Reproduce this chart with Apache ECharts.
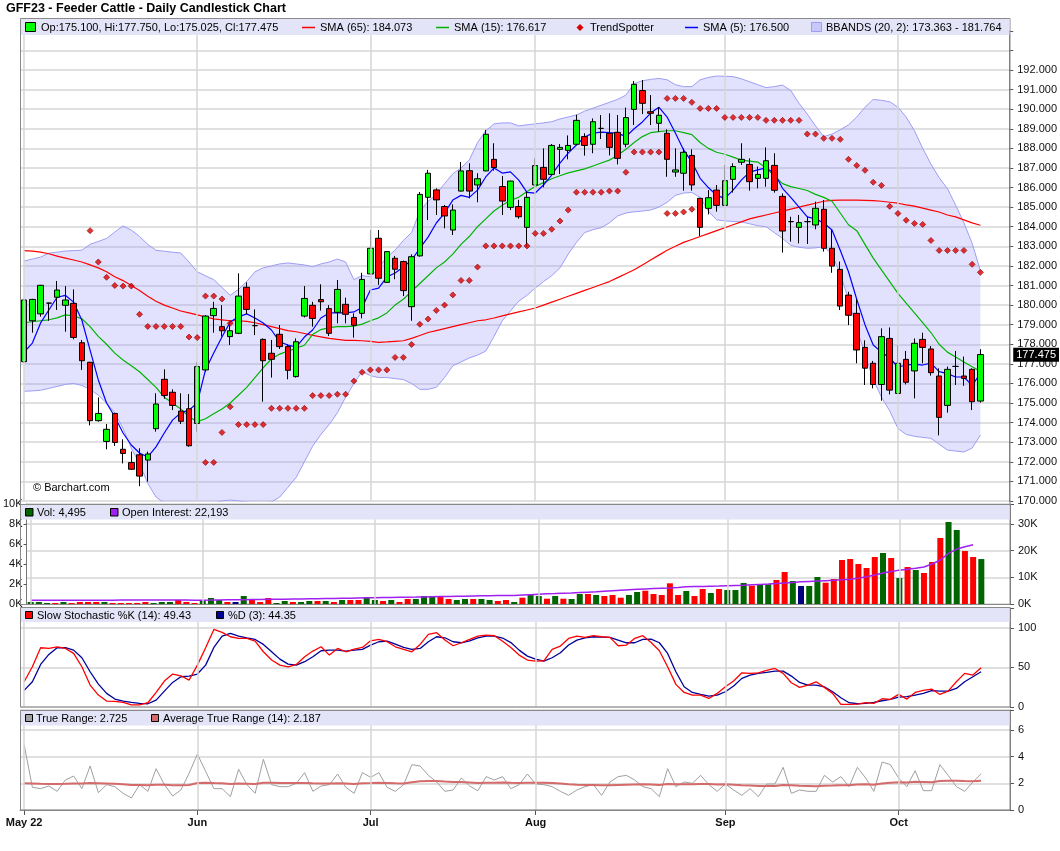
<!DOCTYPE html>
<html><head><meta charset="utf-8">
<script src="https://cdn.jsdelivr.net/npm/echarts@6/dist/echarts.min.js"></script>
<style>html,body{margin:0;padding:0;background:#fff}#c{width:1060px;height:851px}</style>
</head><body><div id="c"></div>
<script>
const dates = [
'2022-05-02','2022-05-03','2022-05-04','2022-05-05','2022-05-06','2022-05-09','2022-05-10','2022-05-11','2022-05-12','2022-05-13',
'2022-05-16','2022-05-17','2022-05-18','2022-05-19','2022-05-20','2022-05-23','2022-05-24','2022-05-25','2022-05-26','2022-05-27',
'2022-05-31','2022-06-01','2022-06-02','2022-06-03','2022-06-06','2022-06-07','2022-06-08','2022-06-09','2022-06-10','2022-06-13',
'2022-06-14','2022-06-15','2022-06-16','2022-06-17','2022-06-21','2022-06-22','2022-06-23','2022-06-24','2022-06-27','2022-06-28',
'2022-06-29','2022-06-30','2022-07-01','2022-07-05','2022-07-06','2022-07-07','2022-07-08','2022-07-11','2022-07-12','2022-07-13',
'2022-07-14','2022-07-15','2022-07-18','2022-07-19','2022-07-20','2022-07-21','2022-07-22','2022-07-25','2022-07-26','2022-07-27',
'2022-07-28','2022-07-29','2022-08-01','2022-08-02','2022-08-03','2022-08-04','2022-08-05','2022-08-08','2022-08-09','2022-08-10',
'2022-08-11','2022-08-12','2022-08-15','2022-08-16','2022-08-17','2022-08-18','2022-08-19','2022-08-22','2022-08-23','2022-08-24',
'2022-08-25','2022-08-26','2022-08-29','2022-08-30','2022-08-31','2022-09-01','2022-09-02','2022-09-06','2022-09-07','2022-09-08',
'2022-09-09','2022-09-12','2022-09-13','2022-09-14','2022-09-15','2022-09-16','2022-09-19','2022-09-20','2022-09-21','2022-09-22',
'2022-09-23','2022-09-26','2022-09-27','2022-09-28','2022-09-29','2022-09-30','2022-10-03','2022-10-04','2022-10-05','2022-10-06',
'2022-10-07','2022-10-10','2022-10-11','2022-10-12','2022-10-13','2022-10-14','2022-10-17'];

const opens = [
177.11,179.20,179.55,180.10,180.40,179.99,180.09,178.08,177.08,174.10,
173.04,174.47,172.64,171.96,172.36,172.09,173.69,176.21,175.55,174.59,
174.71,173.96,176.69,179.46,178.90,178.39,178.56,180.91,178.95,178.25,
177.54,178.51,177.88,176.35,179.44,179.99,180.28,179.82,179.63,180.04,
179.37,179.58,181.59,183.41,181.16,182.39,182.22,179.92,182.51,185.50,
185.88,185.03,183.83,185.82,186.86,186.13,186.85,187.44,186.05,184.99,
185.03,183.97,186.13,187.03,186.67,187.95,187.90,188.21,188.60,188.21,
189.02,188.77,188.82,188.21,189.99,190.95,189.87,189.28,188.77,186.79,
186.73,187.64,185.45,184.94,185.87,185.09,186.42,187.29,187.18,186.47,
186.47,187.13,185.55,184.26,183.97,184.26,184.09,184.89,182.90,181.82,
180.51,179.58,177.84,177.03,175.95,178.30,175.49,177.23,176.64,178.25,
177.76,176.38,174.88,176.87,176.38,176.72,175.100];
const highs = [
180.32,180.32,181.03,180.12,181.23,180.97,180.80,178.22,177.11,175.29,
173.93,174.50,173.15,172.52,172.69,172.52,175.50,176.72,175.70,175.50,
175.46,177.08,179.49,180.17,180.00,179.15,181.62,181.16,179.78,178.30,
178.22,178.98,177.99,178.30,180.97,180.17,181.06,180.00,181.28,180.38,
179.58,181.65,183.83,183.83,182.75,182.51,182.27,182.59,185.77,186.90,
185.96,185.11,185.14,187.30,187.24,186.73,188.94,188.26,186.59,186.35,
185.37,185.79,187.49,188.00,188.22,188.22,188.66,189.72,188.77,189.53,
189.70,189.79,189.70,190.08,191.44,191.49,190.72,190.09,188.97,188.00,
188.00,187.95,185.47,185.87,186.13,187.15,187.24,188.26,187.49,187.07,
188.05,187.75,185.70,184.51,184.60,184.51,185.28,185.36,183.83,182.22,
180.68,180.30,178.20,177.15,178.81,178.86,177.96,177.66,178.30,178.59,
177.91,176.77,176.86,177.66,177.37,176.77,177.750];
const lows = [
177.05,178.59,179.41,179.20,179.75,178.64,178.25,176.69,173.86,174.05,
172.64,172.81,171.92,171.58,170.76,170.99,173.54,175.22,174.64,173.93,
172.77,173.54,176.60,178.59,178.39,177.96,178.52,179.54,178.47,175.07,
176.30,177.76,176.21,176.30,179.37,178.90,179.72,178.42,179.07,179.07,
178.34,179.32,181.55,181.03,181.14,181.32,180.46,179.20,182.48,184.34,
184.60,183.92,183.58,185.80,185.45,185.25,186.83,186.86,184.60,184.85,
184.41,182.98,186.11,186.01,186.64,186.69,187.44,188.19,187.63,187.75,
188.48,187.64,187.18,188.05,189.19,189.75,189.19,188.85,186.55,186.55,
185.84,185.84,183.53,184.63,184.77,185.06,185.74,187.15,185.84,185.96,
186.04,185.74,182.68,183.24,183.15,183.12,183.87,182.73,181.65,179.75,
178.98,177.03,175.92,175.75,175.12,175.44,175.47,175.95,175.24,177.03,
176.40,173.35,174.51,175.92,175.88,174.64,175.025];
const closes = [
180.26,180.29,181.01,180.10,180.77,180.26,178.35,177.16,174.10,174.47,
173.66,172.99,172.43,171.62,171.27,172.40,174.95,175.39,174.88,174.07,
172.82,176.86,179.44,179.83,178.69,178.69,180.46,179.78,178.95,177.16,
177.23,177.88,176.67,178.13,180.34,179.32,180.17,178.56,180.80,179.53,
178.97,181.31,182.90,181.37,182.73,181.83,180.74,182.47,185.65,186.73,
185.37,184.55,184.85,186.85,185.82,186.45,188.72,187.02,185.31,186.33,
184.51,185.50,187.12,186.42,188.15,188.05,188.15,189.43,188.15,189.36,
189.02,188.05,187.49,189.57,191.27,190.30,189.79,189.69,187.44,186.90,
187.80,186.13,183.97,185.48,185.09,186.35,187.07,187.44,186.30,186.67,
187.37,185.86,183.78,184.26,184.21,184.26,184.94,182.90,181.99,179.95,
179.48,177.71,176.78,175.95,178.39,175.66,177.03,176.06,178.05,177.84,
176.55,174.27,176.72,176.87,176.26,175.07,177.475];

const sma65 = [
182.78,182.75,182.7,182.62,182.5,182.4,182.3,182.2,182.05,181.9,
181.7,181.45,181.25,181.0,180.75,180.45,180.2,180.0,179.85,179.7,
179.6,179.5,179.4,179.3,179.25,179.2,179.2,179.17,179.1,179.0,
178.9,178.8,178.7,178.64,178.55,178.45,178.38,178.3,178.25,178.2,
178.2,178.18,178.15,178.1,178.12,178.15,178.18,178.3,178.45,178.6,
178.7,178.8,178.9,179.0,179.1,179.2,179.25,179.34,179.45,179.55,
179.65,179.75,179.85,180.0,180.15,180.3,180.45,180.6,180.75,180.9,
181.05,181.2,181.4,181.6,181.8,182.05,182.3,182.55,182.8,183.0,
183.2,183.35,183.5,183.65,183.8,183.95,184.1,184.25,184.4,184.5,
184.6,184.7,184.8,184.9,185.0,185.1,185.2,185.3,185.35,185.36,
185.36,185.36,185.35,185.33,185.3,185.25,185.2,185.12,185.05,184.95,
184.85,184.75,184.6,184.5,184.35,184.2,184.073];
const sma15 = [
179.1,179.15,179.2,179.25,179.35,179.5,179.45,179.3,178.9,178.4,
178.0,177.55,177.2,176.9,176.6,176.2,175.8,175.3,175.0,174.7,
174.3,174.05,174.2,174.45,174.7,175.0,175.4,175.8,176.3,176.8,
177.25,177.5,177.65,177.8,177.95,178.5,178.75,178.85,178.9,178.9,
178.93,179.03,179.2,179.35,179.6,180.0,180.3,180.7,181.1,181.5,
181.9,182.2,182.6,183.1,183.5,184.0,184.4,184.8,185.1,185.35,
185.5,185.8,186.05,186.25,186.45,186.6,186.75,186.85,186.95,187.1,
187.25,187.4,187.65,187.95,188.3,188.6,188.8,188.85,188.9,188.9,
188.8,188.7,188.3,188.0,187.8,187.7,187.55,187.4,187.35,187.3,
187.0,186.6,186.2,186.05,185.95,185.85,185.65,185.5,185.3,184.7,
184.1,183.8,183.1,182.4,181.8,181.2,180.6,180.1,179.6,179.1,
178.6,178.0,177.6,177.35,177.1,176.85,176.617];
const sma5 = [
177.6,178.06,179.09,179.75,180.4,180.5,180.15,179.24,177.7,176.18,
175.0,174.3,173.47,172.86,172.45,172.25,172.76,173.47,174.13,174.5,
174.64,175.0,176.69,177.55,178.37,179.14,179.4,179.55,179.34,179.09,
178.73,178.12,177.96,177.86,178.37,178.73,179.34,179.6,179.6,179.6,
179.65,179.88,180.77,180.87,181.43,181.64,181.94,182.3,182.9,183.47,
184.19,184.7,185.36,185.6,185.5,185.87,186.54,187.0,186.74,186.8,
186.38,185.75,185.72,186.13,186.64,187.25,187.76,188.17,188.58,188.78,
188.83,188.8,188.78,188.6,189.0,189.35,189.8,190.1,189.6,188.78,
187.92,187.3,186.47,186.0,185.6,185.45,185.87,186.38,186.79,186.9,
187.0,186.74,185.96,185.5,185.0,184.5,184.4,184.19,183.83,182.8,
181.7,180.3,179.0,177.96,177.6,177.3,176.84,176.94,176.99,176.94,
177.04,176.6,176.5,176.33,176.33,175.9,176.500];
const bbUpper = [
182.25,182.35,182.45,182.65,182.7,182.76,182.78,182.8,183.1,183.25,
183.4,183.73,184.04,183.83,183.5,183.1,182.8,182.75,182.7,182.66,
182.2,181.7,181.5,181.3,180.9,180.5,180.8,181.2,181.7,181.9,
182.0,182.1,182.15,182.1,182.05,181.96,182.1,182.2,182.35,182.2,
181.3,181.5,181.45,181.9,182.45,182.8,183.3,183.7,184.8,185.3,
185.65,186.2,186.7,187.0,187.4,188.3,188.9,189.25,189.3,189.3,
189.15,189.2,189.25,189.3,189.36,189.5,189.6,189.7,189.9,190.05,
190.2,190.35,190.5,190.72,191.3,191.45,191.52,191.57,191.5,191.25,
191.15,191.15,191.5,191.62,191.69,191.68,191.66,191.55,191.4,191.25,
191.1,191.15,191.23,190.95,190.3,189.75,189.15,188.6,188.73,188.95,
189.2,189.6,190.1,190.5,190.45,190.38,190.1,189.6,188.9,188.0,
187.2,186.5,185.95,185.1,184.2,183.15,181.764];
const bbLower = [
175.6,175.62,175.65,175.75,175.85,175.95,176.0,175.9,175.7,175.4,
175.0,174.5,173.7,172.7,171.9,170.9,170.2,169.9,169.8,169.7,
169.7,169.7,169.8,169.9,170.0,170.05,170.0,169.95,169.9,169.9,
169.95,170.2,170.7,171.2,172.0,172.8,173.4,173.9,174.5,175.3,
176.0,176.6,176.4,176.3,176.3,176.25,176.2,176.0,175.7,175.7,
175.8,176.3,176.9,177.1,177.3,177.45,177.65,178.4,179.2,179.7,
180.2,180.5,180.87,181.2,181.5,181.9,182.6,183.2,183.7,183.85,
183.95,184.2,184.55,184.7,184.76,184.8,184.85,185.0,185.25,185.6,
185.72,185.75,185.5,184.8,184.35,184.3,184.27,184.25,184.15,184.05,
184.0,183.7,183.4,183.05,182.95,182.9,182.92,182.98,182.6,181.6,
180.3,178.8,177.5,176.2,175.3,174.6,173.7,173.4,173.3,173.25,
173.2,172.9,172.6,172.55,172.5,172.7,173.363];
const trendHigh = [
null,null,null,null,null,null,null,null,183.8,182.2,
181.42,181.0,180.97,180.97,179.53,178.91,178.91,178.91,178.91,178.91,
178.37,178.34,180.46,180.46,180.31,179.07,null,null,null,null,
null,null,null,null,null,null,null,null,null,null,
null,null,null,null,null,null,null,null,null,null,
null,null,null,null,null,null,null,null,null,null,
null,null,null,null,null,null,null,null,null,null,
null,null,null,null,null,null,null,null,190.55,190.55,
190.55,190.35,190.04,190.04,190.04,189.58,189.58,189.58,189.58,189.58,
189.43,189.43,189.43,189.43,189.43,188.73,188.73,188.51,188.51,188.46,
187.44,187.13,186.88,186.27,186.11,185.04,184.68,184.33,184.17,184.12,
183.3,182.79,182.79,182.79,182.79,182.08,181.67];
const trendLow = [
null,null,null,null,null,null,null,null,null,null,
null,null,null,null,null,null,null,null,null,null,
null,null,171.97,171.97,173.5,174.81,173.9,173.9,173.9,173.9,
174.73,174.73,174.73,174.73,174.73,175.38,175.38,175.38,175.45,175.45,
176.12,176.57,176.69,176.69,176.69,177.33,177.33,177.99,179.02,179.29,
179.73,180.0,180.52,181.26,181.26,181.94,183.02,183.02,183.02,183.02,
183.02,183.02,183.66,183.66,183.87,184.29,184.85,185.76,185.76,185.76,
185.76,185.82,185.82,186.78,187.81,187.81,187.81,187.81,184.68,184.68,
184.75,184.89,null,null,null,null,null,null,null,null,
null,null,null,null,null,null,null,null,null,null,
null,null,null,null,null,null,null,null,null,null,
null,null,null,null,null,null,null];

const volume = [
200,200,100,100,200,100,200,200,200,200,
100,100,100,100,200,100,200,200,400,200,
100,300,600,400,200,200,800,500,200,600,
100,300,200,200,300,300,300,200,400,400,
400,700,400,300,400,200,500,500,800,800,
800,500,400,500,500,500,400,300,400,200,
630,900,800,530,800,530,500,1000,1000,900,
800,900,630,900,1200,1330,1000,900,2070,900,
1300,800,1500,1100,1500,1400,1400,2100,1830,1970,
1970,2400,3200,2300,1800,1800,2700,2130,2500,4400,
4500,4000,3600,4700,5100,4600,2600,3700,3400,3100,
4200,6600,8200,7400,5300,4700,4495];
const volDir = [
'u','u','u','d','u','d','d','d','d','u',
'd','d','d','d','d','u','u','u','d','d',
'd','u','u','u','d','n','u','d','d','d',
'u','u','d','u','u','d','u','d','u','d',
'd','u','u','d','u','d','d','u','u','u',
'd','d','u','u','d','u','u','d','d','u',
'd','u','u','d','u','d','u','u','d','u',
'd','d','d','u','u','d','d','d','d','d',
'u','d','d','u','d','u','u','u','d','u',
'u','d','d','u','n','u','u','d','d','d',
'd','d','d','d','u','d','u','d','u','d',
'd','d','u','u','d','d','u'];
const openInterest = [
1400,1400,1410,1420,1420,1430,1430,1440,1440,1450,
1450,1460,1460,1470,1470,1480,1480,1480,1470,1460,
1450,1440,1460,1500,1550,1580,1620,1660,1700,1740,
1780,1820,1860,1900,1950,2000,2050,2100,2150,2200,
2250,2300,2350,2400,2450,2500,2550,2600,2660,2720,
2780,2840,2900,2950,3000,3050,3100,3150,3180,3200,
3350,3500,3650,3800,3900,4050,4150,4300,4450,4600,
4800,5000,5200,5350,5500,5650,5800,5900,6000,6200,
6450,6550,6600,6700,6750,6850,6950,7050,7200,7350,
7500,7700,7900,8100,8300,8450,8600,8750,8900,9050,
9300,9700,10200,10900,11600,12200,12700,13000,13400,13900,
15000,16500,19000,20600,21500,22193,null];

const stochK = [
31.6,50.6,74.7,73.8,75.9,73.8,67.5,50.6,27.4,14.8,
7.2,6.8,5.5,2.5,2.5,5.1,18.1,32.5,41.4,39.2,
33.8,52.7,74.7,97.9,94.1,88.6,86.5,86.5,83.1,69.6,
59.1,52.7,50.6,53.6,63.3,70.5,75.9,65.4,73.8,69.6,
73.0,75.1,83.5,85.2,82.3,75.9,72.6,69.6,78.9,91.6,
93.7,84.4,77.2,81.0,85.2,89.5,90.7,89.9,83.0,75.0,
65.4,59.1,57.8,58.2,72.6,76.8,86.5,89.5,87.8,89.9,
88.6,87.8,77.2,78.1,86.5,89.9,81.4,70.9,50.6,28.3,
18.1,14.8,14.8,10.5,16.9,25.3,32.5,43.0,42.2,43.0,
46.0,48.5,42.2,30.4,24.5,27.4,31.6,24.5,16.9,3.0,
3.0,3.4,5.1,4.2,10.1,9.3,15.6,9.7,18.1,20.7,
22.4,15.6,19.8,31.6,42.2,40.1,49.43];
const stochD = [
20.7,31.6,53.6,66.2,74.7,74.7,71.7,62.0,44.3,28.7,
16.9,9.7,7.2,5.5,4.2,3.8,8.4,19.8,30.8,38.0,
38.8,41.4,52.7,75.1,89.5,92.8,89.5,87.3,85.2,78.9,
69.6,60.3,54.0,52.7,57.0,63.3,70.9,71.7,71.7,70.5,
71.7,72.6,78.1,82.3,83.1,79.3,75.1,72.6,73.8,82.3,
88.6,87.3,82.3,81.0,83.5,87.3,89.5,89.5,87.0,81.2,
71.7,64.1,60.3,57.8,62.0,68.4,78.1,84.4,87.3,88.6,
88.2,87.8,84.4,81.0,81.0,85.2,85.7,81.0,67.5,44.3,
25.3,18.1,15.6,13.5,14.8,19.0,26.2,35.9,40.1,42.2,
43.5,45.1,45.1,38.8,30.8,27.4,27.4,25.3,19.0,11.4,
5.1,3.8,4.2,5.5,7.6,9.3,12.2,12.7,14.8,16.9,
20.3,19.8,19.8,23.2,31.6,38.0,44.35];
const trueRange = [
4.9,1.7,1.6,1.8,1.4,2.25,2.55,1.6,3.3,1.3,
1.9,1.75,1.25,0.9,1.9,1.4,3.1,1.9,1.05,1.5,
2.75,4.2,2.9,1.6,1.6,1.0,3.05,1.9,1.25,3.8,
1.9,1.75,1.75,2.0,2.8,1.4,1.8,1.9,2.7,1.7,
1.25,2.8,2.45,2.8,1.7,1.4,1.9,3.4,3.3,2.6,
2.1,1.4,1.5,2.4,1.8,1.45,2.5,2.25,2.5,1.6,
1.9,2.7,1.95,1.9,1.75,1.4,1.1,1.5,1.75,1.9,
1.1,2.1,2.5,2.6,2.25,1.75,1.6,1.0,3.1,1.75,
2.1,2.0,2.6,1.9,1.4,1.95,1.5,1.1,1.6,1.0,
1.95,1.95,3.2,1.25,1.5,1.4,1.4,2.6,2.1,2.5,
1.75,3.2,2.4,1.4,3.6,3.4,2.4,1.75,2.95,1.45,
1.45,3.4,2.6,1.75,1.4,2.1,2.725];
const atr14 = [
2.0,1.98,1.96,1.95,1.95,1.96,1.98,1.99,2.02,2.0,
1.98,1.96,1.93,1.88,1.87,1.86,1.9,1.9,1.86,1.85,
1.88,2.02,2.05,2.02,2.0,1.95,1.98,1.97,1.95,2.05,
2.05,2.03,2.02,2.02,2.03,2.0,1.99,1.98,2.0,1.98,
1.95,2.0,2.02,2.05,2.03,2.0,1.98,2.08,2.15,2.18,
2.17,2.13,2.1,2.1,2.07,2.03,2.04,2.05,2.07,2.04,
2.03,2.05,2.05,2.04,2.02,1.98,1.93,1.9,1.88,1.88,
1.85,1.85,1.88,1.9,1.92,1.93,1.92,1.88,1.95,1.93,
1.93,1.93,1.95,1.95,1.92,1.93,1.9,1.85,1.84,1.8,
1.8,1.8,1.88,1.85,1.82,1.8,1.78,1.82,1.83,1.85,
1.85,1.92,1.93,1.9,1.98,2.05,2.08,2.07,2.12,2.1,
2.08,2.17,2.2,2.2,2.17,2.15,2.187];

const monthNames = ['Jan','Feb','Mar','Apr','May','Jun','Jul','Aug','Sep','Oct','Nov','Dec'];

// ---------- build ----------
const FF = '"Liberation Sans", Arial, Helvetica, sans-serif';
const N = dates.length;
const last = N - 1;
const ohlc = dates.map((d, i) => [opens[i], closes[i], lows[i], highs[i]]);
const bbWidth = bbUpper.map((u, i) => +(u - bbLower[i]).toFixed(4));
const trendPts = [];
trendHigh.forEach((v, i) => { if (v != null) trendPts.push([i, v]); });
trendLow.forEach((v, i) => { if (v != null) trendPts.push([i, v]); });
const dirColor = { u: '#006400', d: '#ff0000', n: '#000080' };
const volData = volume.map((v, i) => ({ value: v, itemStyle: { color: dirColor[volDir[i]] } }));
const monthStarts = dates.map((d, i) => (i === 0 || d.slice(5, 7) !== dates[i - 1].slice(5, 7)) ? i : -1).filter(i => i >= 0);
const msSet = new Set(monthStarts);
const isMS = (idx) => msSet.has(idx);
const monthLabel = (val, idx) => {
  if (!val) return '';
  const m = monthNames[+val.slice(5, 7) - 1];
  return idx === 0 ? m + ' ' + val.slice(2, 4) : m;
};
const vLines = monthStarts.map(i => ({ xAxis: dates[i] }));
const vLineStyle = { silent: true, symbol: 'none', label: { show: false }, lineStyle: { color: '#d6d6d6', width: 1.5, type: 'solid' }, data: vLines, animation: false };

const GL = 20, GR = 50;
const grids = [
  { left: GL, right: GR, top: 30.82, height: 470.18 },
  { left: GL, right: GR, top: 504, height: 100 },
  { left: GL, right: GR, top: 608, height: 98.75 },
  { left: GL, right: GR, top: 710, height: 100 }
];
function xAx(gi, show) {
  return {
    type: 'category', gridIndex: gi, data: dates, max: 119, boundaryGap: true,
    axisLine: { show: show, lineStyle: { color: '#888' } },
    axisTick: { show: show, alignWithLabel: true, interval: isMS, length: 5, lineStyle: { color: '#555' } },
    axisLabel: { show: show, interval: isMS, formatter: monthLabel, fontFamily: FF, fontSize: 11, fontWeight: 'bold', color: '#111', margin: 7 },
    splitLine: { show: false }
  };
}
const gridLine = { show: true, lineStyle: { color: '#d6d6d6', width: 1.5 } };
const axLbl = { fontFamily: FF, fontSize: 11, color: '#111', margin: 8 };
const yAxes = [
  { type: 'value', gridIndex: 0, position: 'right', min: 170, max: 194, interval: 1,
    axisLine: { show: true, lineStyle: { color: '#777' } }, axisTick: { show: true, length: 4, lineStyle: { color: '#555' } },
    axisLabel: Object.assign({}, axLbl, { formatter: v => v <= 192.0001 ? v.toFixed(3) : '' }), splitLine: gridLine },
  { type: 'value', gridIndex: 1, position: 'left', min: 0, max: 10000, interval: 2000,
    axisLine: { show: true, lineStyle: { color: '#777' } }, axisTick: { show: true, length: 3, lineStyle: { color: '#555' } },
    axisLabel: Object.assign({}, axLbl, { margin: 4, formatter: v => (v / 1000) + 'K' }), splitLine: { show: false } },
  { type: 'value', gridIndex: 1, position: 'right', min: 0, max: 37500, interval: 10000,
    axisLine: { show: true, lineStyle: { color: '#777' } }, axisTick: { show: true, length: 4, lineStyle: { color: '#555' } },
    axisLabel: Object.assign({}, axLbl, { formatter: v => v % 10000 === 0 ? (v / 1000) + 'K' : '' }), splitLine: gridLine },
  { type: 'value', gridIndex: 2, position: 'right', min: 0, max: 125, interval: 50,
    axisLine: { show: true, lineStyle: { color: '#777' } }, axisTick: { show: true, length: 4, lineStyle: { color: '#555' } },
    axisLabel: Object.assign({}, axLbl, { formatter: v => v <= 100 ? String(v) : '' }), splitLine: gridLine },
  { type: 'value', gridIndex: 3, position: 'right', min: 0, max: 7.5, interval: 2,
    axisLine: { show: true, lineStyle: { color: '#777' } }, axisTick: { show: true, length: 4, lineStyle: { color: '#555' } },
    axisLabel: Object.assign({}, axLbl, { formatter: v => v <= 6 ? String(v) : '' }), splitLine: gridLine }
];

const lineS = (name, xi, yi, data, color, width, z, extra) => Object.assign({
  name, type: 'line', xAxisIndex: xi, yAxisIndex: yi, data, symbol: 'none', showSymbol: false,
  lineStyle: { color, width }, itemStyle: { color }, z, silent: true, animation: false
}, extra || {});

const series = [
  lineS('BB lower', 0, 0, bbLower, '#9d9df5', 1, 1, { stack: 'bb', markLine: vLineStyle }),
  lineS('BB band', 0, 0, bbWidth, '#9d9df5', 1, 1, { stack: 'bb', areaStyle: { color: 'rgba(140,140,255,0.36)' } }),
  lineS('SMA 65', 0, 0, sma65, '#ff0000', 1.2, 3),
  lineS('SMA 15', 0, 0, sma15, '#00b400', 1.2, 3),
  lineS('SMA 5', 0, 0, sma5, '#0000ff', 1.2, 3),
  { name: 'Price', type: 'candlestick', xAxisIndex: 0, yAxisIndex: 0, data: ohlc, barWidth: 6, z: 4, animation: false,
    itemStyle: { color: '#00ff00', color0: '#ff0000', borderColor: '#000', borderColor0: '#000', borderWidth: 1 },
    markLine: { silent: true, symbol: 'none', animation: false,
      lineStyle: { color: 'rgba(0,0,0,0)', width: 0 },
      label: { show: true, position: 'end', distance: 4, formatter: closes[last].toFixed(3), backgroundColor: '#000', color: '#fff', padding: [2, 3, 1, 3], fontFamily: FF, fontSize: 11 },
      data: [{ yAxis: closes[last] }] } },
  { name: 'TrendSpotter', type: 'scatter', xAxisIndex: 0, yAxisIndex: 0, data: trendPts, symbol: 'diamond', symbolSize: [6, 6], z: 5, animation: false,
    itemStyle: { color: '#dd0000', borderColor: '#8a0000', borderWidth: 0.8 } },
  { name: 'Vol', type: 'bar', xAxisIndex: 1, yAxisIndex: 1, data: volData, barWidth: 6, z: 3, animation: false, markLine: vLineStyle },
  lineS('Open Interest', 1, 2, openInterest, '#a020f0', 1.5, 4),
  lineS('%K', 2, 3, stochK, '#ff0000', 1.3, 4, { markLine: vLineStyle }),
  lineS('%D', 2, 3, stochD, '#000099', 1.3, 3),
  lineS('TR', 3, 4, trueRange, '#a0a0a0', 1, 3, { markLine: vLineStyle }),
  lineS('ATR', 3, 4, atr14, '#d46a6a', 2, 4)
];

// ---------- header graphics ----------
const fmtN = (v) => String(v).replace(/\B(?=(\d{3})+(?!\d))/g, ',');
const lastOI = openInterest.filter(v => v != null).slice(-1)[0];
const TX = (id, x, y, text, font) => ({ type: 'text', id, z: 30, x, y, style: { text, fill: '#000', font: font || ('11px ' + FF), verticalAlign: 'middle', align: 'left' } });
const RC = (id, x, y, w, h, fill, stroke, z) => ({ type: 'rect', id, z: z || 30, shape: { x, y, width: w, height: h }, style: { fill: fill || 'none', stroke: stroke || 'none', lineWidth: 1 } });
const LN = (id, x1, x2, y, color) => ({ type: 'line', id, z: 30, shape: { x1, y1: y, x2, y2: y }, style: { stroke: color, lineWidth: 1.5 } });

const graphics = [
  TX('title', 6, 9, 'GFF23 - Feeder Cattle - Daily Candlestick Chart', 'bold 12.5px ' + FF),
  RC('b0', 20.5, 18.5, 989.5, 486.5, 'none', '#8a8a8a', 25),
  RC('b1', 20.5, 504.5, 989.5, 100, 'none', '#8a8a8a', 25),
  RC('b2', 20.5, 607.5, 989.5, 99.5, 'none', '#8a8a8a', 25),
  RC('b3', 20.5, 710.5, 989.5, 99.5, 'none', '#8a8a8a', 25),
  RC('h0', 21, 19, 988.5, 16, '#e4e4f8', 'none', 26),
  RC('h1', 21, 505, 988.5, 14.5, '#e4e4f8', 'none', 26),
  RC('h2', 21, 608, 988.5, 14, '#e4e4f8', 'none', 26),
  RC('h3', 21, 711, 988.5, 14.5, '#e4e4f8', 'none', 26),
  RC('l0a', 25.5, 22.5, 10, 9, '#00ff00', '#000'),
  TX('l0b', 41, 27.5, 'Op:' + opens[last].toFixed(3) + ', Hi:' + highs[last].toFixed(3) + ', Lo:' + lows[last].toFixed(3) + ', Cl:' + closes[last].toFixed(3)),
  LN('l1a', 302, 315, 27.5, '#ff0000'),
  TX('l1b', 320, 27.5, 'SMA (65): ' + sma65[last].toFixed(3)),
  LN('l2a', 436, 449, 27.5, '#00b400'),
  TX('l2b', 454, 27.5, 'SMA (15): ' + sma15[last].toFixed(3)),
  { type: 'polygon', id: 'l3a', z: 30, shape: { points: [[580, 24], [583.5, 27.5], [580, 31], [576.5, 27.5]] }, style: { fill: '#dd0000' } },
  TX('l3b', 590, 27.5, 'TrendSpotter'),
  LN('l4a', 685, 698, 27.5, '#0000ff'),
  TX('l4b', 703, 27.5, 'SMA (5): ' + sma5[last].toFixed(3)),
  RC('l5a', 811.5, 22.5, 10, 9, '#c8c8fb', '#9d9df5'),
  TX('l5b', 826, 27.5, 'BBANDS (20, 2): ' + bbLower[last].toFixed(3) + ' - ' + bbUpper[last].toFixed(3)),
  RC('v0a', 25.5, 508.5, 7.5, 7.5, '#006400', '#000'),
  TX('v0b', 37, 512.5, 'Vol: ' + fmtN(volume[last])),
  RC('v1a', 110.5, 508.5, 7.5, 7.5, '#a020f0', '#000'),
  TX('v1b', 122, 512.5, 'Open Interest: ' + fmtN(lastOI)),
  RC('s0a', 25.5, 611.5, 7, 7, '#ff0000', '#000'),
  TX('s0b', 37, 615.5, 'Slow Stochastic %K (14): ' + stochK[last].toFixed(2)),
  RC('s1a', 216.5, 611.5, 7, 7, '#000099', '#000'),
  TX('s1b', 228, 615.5, '%D (3): ' + stochD[last].toFixed(2)),
  RC('t0a', 25.5, 714.5, 7, 7, '#a0a0a0', '#000'),
  TX('t0b', 36, 718.5, 'True Range: ' + trueRange[last].toFixed(3)),
  RC('t1a', 151.5, 714.5, 7, 7, '#d46a6a', '#000'),
  TX('t1b', 163, 718.5, 'Average True Range (14): ' + atr14[last].toFixed(3)),
  TX('copy', 33, 488, '\u00a9 Barchart.com')
];

const option = {
  animation: false,
  backgroundColor: '#ffffff',
  textStyle: { fontFamily: FF },
  grid: grids,
  xAxis: [xAx(0, false), xAx(1, false), xAx(2, false), xAx(3, true)],
  yAxis: yAxes,
  series: series,
  graphic: { elements: graphics }
};
const chart = echarts.init(document.getElementById('c'), null, { renderer: 'canvas' });
chart.setOption(option);
</script></body></html>
